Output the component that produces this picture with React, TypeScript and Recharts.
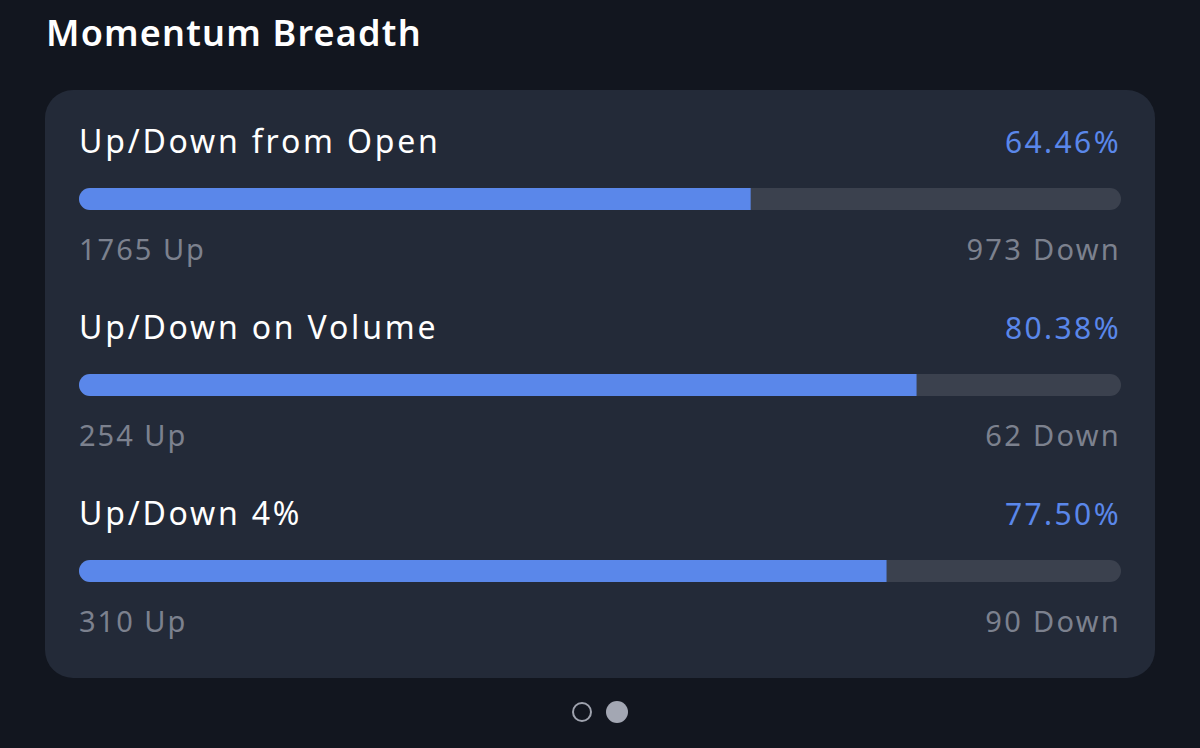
import React from "react";
import { BarChart, Bar, XAxis, YAxis, Rectangle } from "recharts";

const categories = ["Up/Down from Open", "Up/Down on Volume", "Up/Down 4%"];
const upCounts = [1765, 254, 310];
const downCounts = [973, 62, 90];
const percents = [64.46, 80.38, 77.5];

const data = categories.map((name, i) => ({
  name,
  up: upCounts[i],
  down: downCounts[i],
  pct: percents[i],
}));

const FONT = "'Noto Sans', sans-serif";
const BLUE = "#5a87ea";
const TRACK = "#3b414e";
const GREY = "#7c818e";

const RowShape = (props: any) => {
  const { x, y, width, height, payload } = props;
  const full = (width * 100) / payload.pct;
  const right = x + full;
  return (
    <g>
      <Rectangle
        x={x}
        y={y}
        width={width}
        height={height}
        radius={[height / 2, 0, 0, height / 2]}
        fill={BLUE}
      />
      <text
        x={x}
        y={y - 35}
        fill="#ffffff"
        fontSize={32}
        fontWeight={400}
        fontFamily={FONT}
        letterSpacing={2.8}
      >
        {payload.name}
      </text>
      <text
        x={right}
        y={y - 35}
        fill={BLUE}
        fontSize={30}
        fontFamily={FONT}
        textAnchor="end"
        letterSpacing={2.4}
      >
        {payload.pct.toFixed(2)}%
      </text>
      <text x={x} y={y + height + 50} fill={GREY} fontSize={29} fontFamily={FONT} letterSpacing={2}>
        {payload.up} Up
      </text>
      <text
        x={right}
        y={y + height + 50}
        fill={GREY}
        fontSize={29}
        fontFamily={FONT}
        textAnchor="end"
        letterSpacing={2.3}
      >
        {payload.down} Down
      </text>
    </g>
  );
};

export default function App() {
  return (
    <div
      style={{
        position: "absolute",
        left: 0,
        top: 0,
        width: 1200,
        height: 748,
        background: "#12161f",
        overflow: "hidden",
        fontFamily: FONT,
      }}
    >
      <div
        style={{
          position: "absolute",
          left: 46,
          top: 8,
          fontSize: 36,
          fontWeight: 600,
          color: "#ffffff",
          lineHeight: "50px",
          letterSpacing: 1.2,
        }}
      >
        Momentum Breadth
      </div>
      <div
        style={{
          position: "absolute",
          left: 45,
          top: 90,
          width: 1110,
          height: 588,
          borderRadius: 28,
          background: "#232a38",
        }}
      />
      <div style={{ position: "absolute", left: 0, top: 0 }}>
        <BarChart
          width={1200}
          height={748}
          data={data}
          layout="vertical"
          margin={{ top: 106, right: 79, bottom: 84, left: 79 }}
          barSize={22}
        >
          <XAxis type="number" domain={[0, 100]} hide />
          <YAxis type="category" dataKey="name" hide />
          <Bar
            dataKey="pct"
            isAnimationActive={false}
            background={{ fill: TRACK, radius: 11 }}
            shape={RowShape}
          />
        </BarChart>
      </div>
      <div
        style={{
          position: "absolute",
          left: 572,
          top: 702,
          width: 16,
          height: 16,
          borderRadius: "50%",
          border: "2.5px solid #9fa3ae",
        }}
      />
      <div
        style={{
          position: "absolute",
          left: 606,
          top: 701,
          width: 22,
          height: 22,
          borderRadius: "50%",
          background: "#a3a7b3",
        }}
      />
    </div>
  );
}
